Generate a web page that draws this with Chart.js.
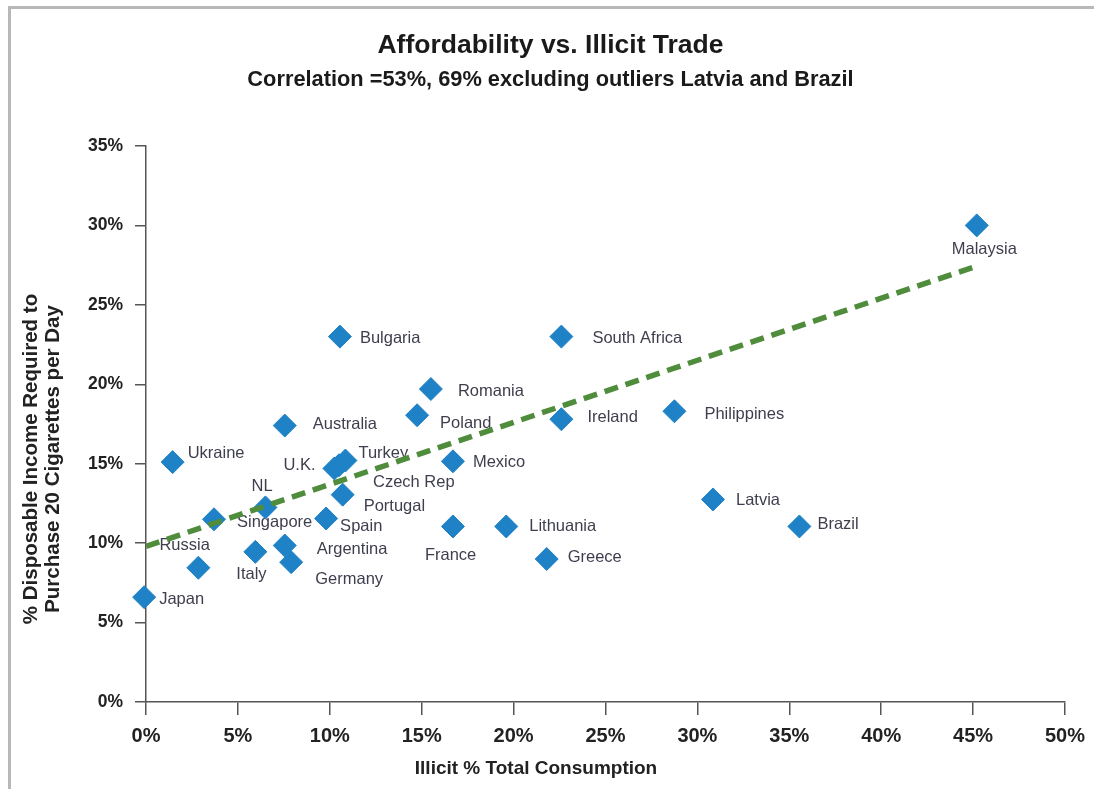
<!DOCTYPE html>
<html>
<head>
<meta charset="utf-8">
<script src="https://cdn.jsdelivr.net/npm/chart.js@4.4.1/dist/chart.umd.min.js"></script>
<style>
	html, body { margin: 0; padding: 0; background: #fff; }
</style>
</head>
<body>
<canvas id="myChart" width="1094" height="789"></canvas>
<script>
// illicit share of consumption (x, %) vs income needed for 20 cigarettes/day (y, %)
const countries = ["Japan", "Russia", "Italy", "Singapore", "NL", "Ukraine", "Australia", "Argentina", "Germany", "Spain", "U.K.", "Czech Rep", "Turkey", "Portugal", "Poland", "Romania", "Bulgaria", "South Africa", "Mexico", "Ireland", "France", "Lithuania", "Greece", "Philippines", "Latvia", "Brazil", "Malaysia"];
const illicit = [-0.1, 2.85, 5.95, 3.7, 6.5, 1.45, 7.55, 7.55, 7.9, 9.8, 10.25, 10.5, 10.85, 10.7, 14.75, 15.5, 10.55, 22.6, 16.7, 22.6, 16.7, 19.6, 21.8, 28.75, 30.85, 35.55, 45.2];
const income = [6.6, 8.45, 9.45, 11.5, 12.25, 15.1, 17.4, 9.85, 8.8, 11.55, 14.7, 14.9, 15.2, 13.05, 18.05, 19.7, 23.0, 23.0, 15.15, 17.8, 11.05, 11.05, 9.0, 18.3, 12.75, 11.05, 30.0];

// fitted trend line end points
const trendX = [0, 45.1];
const trendY = [9.8, 27.4];

const titleText = "Affordability vs. Illicit Trade";
const subtitleText = "Correlation =53%, 69% excluding outliers Latvia and Brazil";
const xTitle = "Illicit % Total Consumption";
const yTitle = ["% Disposable Income Required to", "Purchase 20 Cigarettes per Day"];

// where each label sits relative to its diamond (px)
const labelOffsets = {
	"Japan": [15, 2], "Russia": [-39, -22], "Italy": [-19, 23], "Singapore": [23, 3],
	"NL": [-14, -21], "Ukraine": [15, -9], "Australia": [28, -1], "Argentina": [32, 4],
	"Germany": [24, 17], "Spain": [14, 8], "U.K.": [-51, -3], "Czech Rep": [34, 17],
	"Turkey": [13, -7], "Portugal": [21, 12], "Poland": [23, 8], "Romania": [27, 2],
	"Bulgaria": [20, 2], "South Africa": [31, 2], "Mexico": [20, 1], "Ireland": [26, -2],
	"France": [-28, 29], "Lithuania": [23, 0], "Greece": [21, -2], "Philippines": [30, 3],
	"Latvia": [23, 1], "Brazil": [18, -2], "Malaysia": [-25, 24],
};

const FONT = "'Liberation Sans', Arial, sans-serif";
Chart.defaults.font.family = FONT;
Chart.defaults.color = "#222";

const framePlugin = {
	id: "frame",
	beforeDraw(chart) {
		const ctx = chart.ctx;
		ctx.save();
		ctx.strokeStyle = "#b8b8b8";
		ctx.lineWidth = 3;
		ctx.beginPath();
		ctx.moveTo(9.5, 789);
		ctx.lineTo(9.5, 7.5);
		ctx.lineTo(1094, 7.5);
		ctx.stroke();
		ctx.restore();
	},
};

const pointLabels = {
	id: "pointLabels",
	beforeDatasetsDraw(chart) {
		const ctx = chart.ctx;
		const meta = chart.getDatasetMeta(1);
		ctx.save();
		ctx.font = "16.5px " + FONT;
		ctx.fillStyle = "#3e3e4e";
		ctx.textAlign = "left";
		ctx.textBaseline = "middle";
		meta.data.forEach((pt, i) => {
			const off = labelOffsets[countries[i]] || [15, 0];
			ctx.fillText(countries[i], pt.x + off[0], pt.y + off[1]);
		});
		ctx.restore();
	},
};

const axisTitles = {
	id: "axisTitles",
	afterDraw(chart) {
		const ctx = chart.ctx;
		ctx.save();
		ctx.fillStyle = "#222";
		ctx.textAlign = "center";
		ctx.textBaseline = "middle";
		ctx.font = "bold 19px " + FONT;
		ctx.fillText(xTitle, 536, 769);
		ctx.translate(0, 459);
		ctx.rotate(-Math.PI / 2);
		ctx.font = "bold 20.5px " + FONT;
		ctx.fillText(yTitle[0], 0, 31);
		ctx.fillText(yTitle[1], 0, 53);
		ctx.restore();
	},
};

const ctx = document.getElementById("myChart").getContext("2d");
const myChart = new Chart(ctx, {
	type: "scatter",
	data: {
		datasets: [
			{
				label: "Trend",
				data: trendX.map((x, i) => ({ x: x, y: trendY[i] })),
				showLine: true,
				borderColor: "#4f8c3b",
				borderWidth: 5.5,
				borderDash: [14, 8],
				pointRadius: 0,
				fill: false,
				order: 0,
			},
			{
				label: "Countries",
				data: illicit.map((x, i) => ({ x: x, y: income[i] })),
				pointStyle: "rectRot",
				pointRadius: 11.5,
				backgroundColor: "#1f82c6",
				borderColor: "#1f82c6",
				borderWidth: 1,
				clip: false,
				order: 1,
			},
		],
	},
	options: {
		responsive: false,
		animation: false,
		layout: { padding: { top: 0, left: 34, right: 27, bottom: 0 } },
		plugins: {
			legend: { display: false },
			tooltip: { enabled: false },
			title: {
				display: true,
				text: titleText,
				color: "#1a1a1a",
				font: { size: 26.5, weight: "bold", lineHeight: 1.2 },
				padding: { top: 30, bottom: 0 },
			},
			subtitle: {
				display: true,
				text: subtitleText,
				color: "#1a1a1a",
				font: { size: 21.8, weight: "bold", lineHeight: 1.2 },
				padding: { top: 5, bottom: 53 },
			},
		},
		scales: {
			x: {
				type: "linear",
				min: 0,
				max: 50,
				ticks: {
					stepSize: 5,
					padding: 9,
					color: "#222",
					font: { size: 20, weight: "bold" },
					callback: (v) => v + "%",
				},
				grid: { drawOnChartArea: false, tickLength: 13, color: "#555", lineWidth: 1.5 },
				border: { color: "#555", width: 1.5 },
				afterFit: (scale) => { scale.height = 87; },
			},
			y: {
				type: "linear",
				min: 0,
				max: 35,
				ticks: {
					stepSize: 5,
					padding: 12,
					color: "#222",
					font: { size: 17.5, weight: "bold" },
					callback: (v) => v + "%",
				},
				grid: { drawOnChartArea: false, tickLength: 11, color: "#555", lineWidth: 1.5 },
				border: { color: "#555", width: 1.5 },
				afterFit: (scale) => { scale.width = 112; },
			},
		},
	},
	plugins: [framePlugin, pointLabels, axisTitles],
});
</script>
</body>
</html>
